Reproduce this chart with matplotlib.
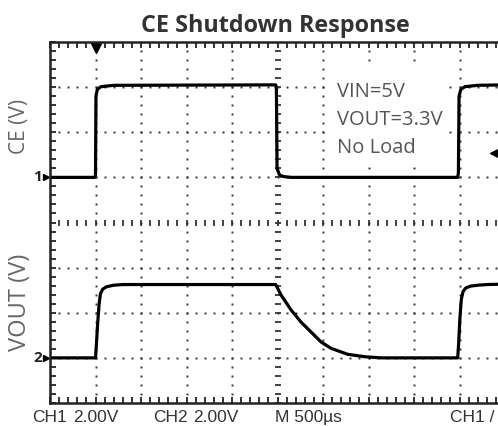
import matplotlib
matplotlib.use('Agg')
import matplotlib.pyplot as plt
import matplotlib.transforms as mtransforms
from matplotlib.patches import Rectangle
import numpy as np

# time base 500 us/div, 10 divisions; both channels 2 V/div
ce_t = [0, 490, 500, 505, 520, 560, 700, 2480, 2488, 2495, 2520, 2560, 2650, 4480, 4488, 4495, 4515, 4560, 4700, 5000]
ce_v = [0.0, 0.0, 0.1, 3.6, 3.9, 4.02, 4.08, 4.1, 3.9, 0.4, 0.12, 0.04, 0.0, 0.0, 0.2, 3.6, 3.9, 4.02, 4.08, 4.1]

vout_t = [0, 500, 510, 525, 540, 555, 580, 620, 700, 800, 2480, 2540, 2650, 2760, 2870, 2980,
          3090, 3270, 3460, 3640, 4480, 4490, 4505, 4520, 4540, 4570, 4620, 4700, 4800, 5000]
vout_v = [0.0, 0.0, 0.6, 1.6, 2.4, 2.85, 3.05, 3.15, 3.22, 3.25, 3.25, 2.78, 2.12, 1.58, 1.14, 0.7,
          0.42, 0.16, 0.05, 0.0, 0.0, 0.6, 1.8, 2.6, 2.95, 3.1, 3.18, 3.22, 3.25, 3.27]

ce_offset = 1.0      # divisions
vout_offset = -3.0
volts_per_div = 2.0
trig_t = 500
trig_level = 1.06    # V on CH1

bottom_labels = [('CH1', 32), ('2.00V', 73), ('CH2', 153), ('2.00V', 193), ('M 500µs', 275), ('CH1 /', 450)]
notes = ['VIN=5V', 'VOUT=3.3V', 'No Load']

W, H = 498, 426
fig = plt.figure(figsize=(W / 100, H / 100), dpi=100)
ax = fig.add_axes([50 / W, 23 / H, 455 / W, 361 / H])
ax.set_xlim(0, 5000)
ax.set_ylim(-4, 4)

# graticule
grid_col = '#333333'
xs = np.arange(0, 5001, 100)
ys = np.arange(-4, 4.01, 0.2)
for gx in range(500, 5000, 500):
    if gx == 2500:
        ax.plot(np.full_like(ys, gx), ys, ls='none', marker='_', ms=5, mew=1.3, color=grid_col)
    else:
        ax.plot(np.full_like(ys, gx), ys, ls='none', marker='s', ms=1.4, mew=0, color=grid_col)
for gy in range(-3, 4):
    if gy == 0:
        ax.plot(xs, np.zeros_like(xs), ls='none', marker='|', ms=4.5, mew=1.3, color=grid_col)
    else:
        ax.plot(xs, np.full_like(xs, gy, dtype=float), ls='none', marker='s', ms=1.4, mew=0, color=grid_col)

# white box behind the test conditions
fig.patches.append(Rectangle((327 / W, 1 - 166 / H), 122 / W, 100 / H, transform=fig.transFigure,
                             facecolor='white', edgecolor='none', zorder=1))

# traces
ax.plot(ce_t, ce_offset + np.array(ce_v) / volts_per_div, color='black', lw=2.3, solid_joinstyle='round')
ax.plot(vout_t, vout_offset + np.array(vout_v) / volts_per_div, color='black', lw=2.3, solid_joinstyle='round')

# frame with ticks
for s in ['top', 'left', 'bottom']:
    ax.spines[s].set_linewidth(1.8)
    ax.spines[s].set_color('#222222')
ax.spines['right'].set_visible(False)
ax.set_xticks(np.arange(0, 5001, 500))
ax.set_xticks(xs, minor=True)
ax.set_yticks(np.arange(-4, 4.01, 1))
ax.set_yticks(ys, minor=True)
ax.tick_params(which='both', direction='in', length=4, width=1.3, color='#222222',
               top=True, bottom=True, left=True, right=False,
               labelbottom=False, labelleft=False)

# markers: trigger position, channel grounds, trigger level
ax.plot([trig_t], [3.86], marker='v', ms=7, color='black', clip_on=False)
ax.plot([4890], [ce_offset + trig_level / volts_per_div], marker='<', ms=7, color='black', clip_on=False)
tr = mtransforms.blended_transform_factory(ax.transAxes, ax.transData)
for lab, off in [('1', ce_offset), ('2', vout_offset)]:
    ax.plot([-0.008], [off], marker='>', ms=5, color='black', transform=tr, clip_on=False)
    ax.text(-0.018, off, lab, transform=tr, ha='right', va='center', fontsize=11,
            fontweight='bold', color='#222222', family='Open Sans')

# texts
fig.text(275 / W, 1 - 32 / H, 'CE Shutdown Response', ha='center', va='baseline',
         fontsize=16.8, fontweight='bold', color='#333333', family='Open Sans')
for i, t in enumerate(notes):
    fig.text(337 / W, 1 - (97 + 28 * i) / H, t, ha='left', va='baseline',
             fontsize=14.5, color='#555555', family='Open Sans', zorder=3)
fig.text(20 / W, 1 - 126 / H, 'CE (V)', rotation=90, ha='center', va='center',
         fontsize=15, color='#666666', family='Open Sans')
fig.text(20 / W, 1 - 302 / H, 'VOUT (V)', rotation=90, ha='center', va='center',
         fontsize=17, color='#666666', family='Open Sans')
for t, x in bottom_labels:
    fig.text(x / W, 1 - 422 / H, t, ha='left', va='baseline', fontsize=12.5,
             color='#333333', family=['Liberation Sans Narrow', 'Liberation Sans'])

fig.savefig('out.png', dpi=100)
